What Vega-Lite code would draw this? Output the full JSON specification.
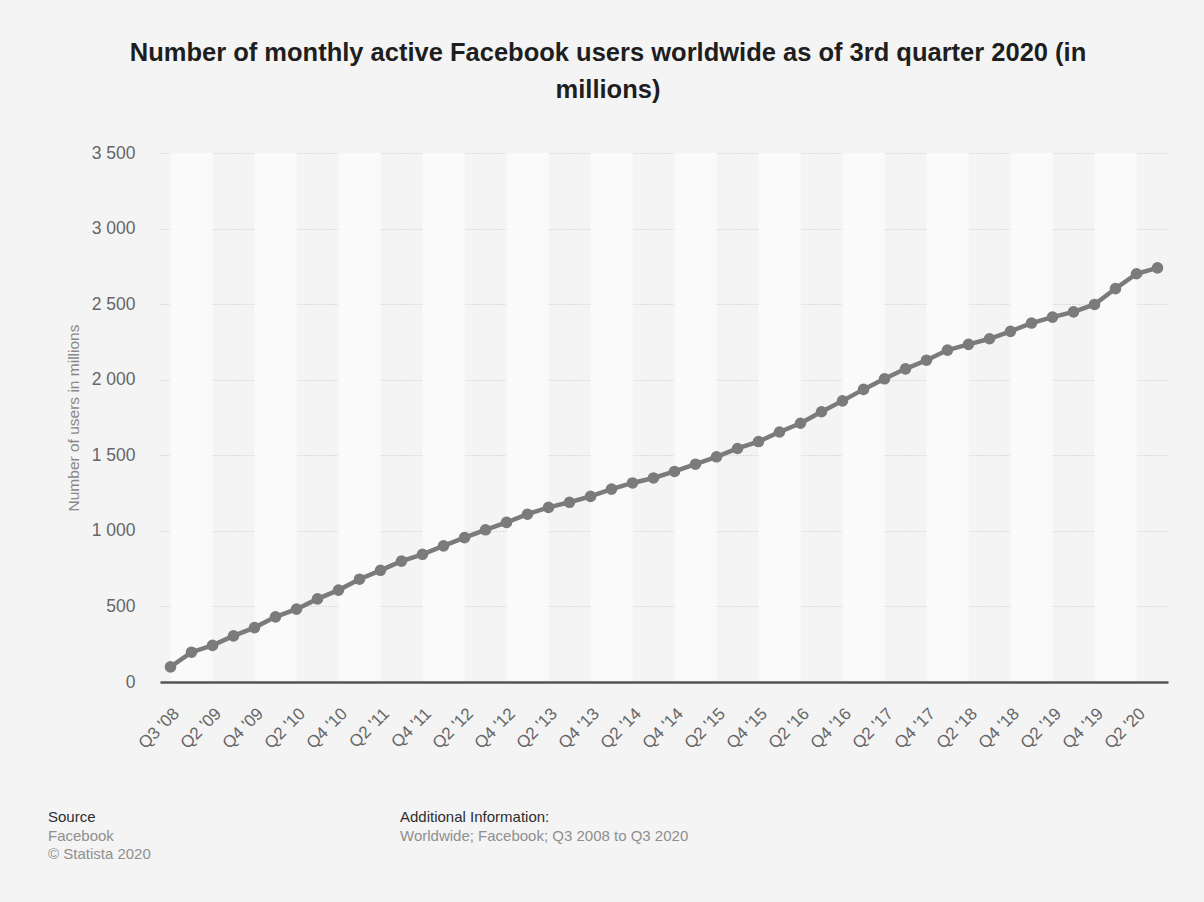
{
  "$schema": "https://vega.github.io/schema/vega-lite/v6.json",
  "background": "#f4f4f4",
  "padding": {"left": 48, "top": 40, "right": 36, "bottom": 41},
  "title": {
    "text": ["Number of monthly active Facebook users worldwide as of 3rd quarter 2020 (in", "millions)"],
    "anchor": "middle",
    "frame": "bounds",
    "font": "Liberation Sans",
    "fontSize": 25.5,
    "fontWeight": "bold",
    "color": "#1e1e1e",
    "lineHeight": 37,
    "offset": 41
  },
  "datasets": {
    "mau": [
      {"quarter": "Q3 '08", "users": 100},
      {"quarter": "Q1 '09", "users": 197},
      {"quarter": "Q2 '09", "users": 242},
      {"quarter": "Q3 '09", "users": 305},
      {"quarter": "Q4 '09", "users": 360},
      {"quarter": "Q1 '10", "users": 431},
      {"quarter": "Q2 '10", "users": 482},
      {"quarter": "Q3 '10", "users": 550},
      {"quarter": "Q4 '10", "users": 608},
      {"quarter": "Q1 '11", "users": 680},
      {"quarter": "Q2 '11", "users": 739},
      {"quarter": "Q3 '11", "users": 800},
      {"quarter": "Q4 '11", "users": 845},
      {"quarter": "Q1 '12", "users": 901},
      {"quarter": "Q2 '12", "users": 955},
      {"quarter": "Q3 '12", "users": 1007},
      {"quarter": "Q4 '12", "users": 1056},
      {"quarter": "Q1 '13", "users": 1110},
      {"quarter": "Q2 '13", "users": 1155},
      {"quarter": "Q3 '13", "users": 1189},
      {"quarter": "Q4 '13", "users": 1228},
      {"quarter": "Q1 '14", "users": 1276},
      {"quarter": "Q2 '14", "users": 1317},
      {"quarter": "Q3 '14", "users": 1350},
      {"quarter": "Q4 '14", "users": 1393},
      {"quarter": "Q1 '15", "users": 1441},
      {"quarter": "Q2 '15", "users": 1490},
      {"quarter": "Q3 '15", "users": 1545},
      {"quarter": "Q4 '15", "users": 1591},
      {"quarter": "Q1 '16", "users": 1654},
      {"quarter": "Q2 '16", "users": 1712},
      {"quarter": "Q3 '16", "users": 1788},
      {"quarter": "Q4 '16", "users": 1860},
      {"quarter": "Q1 '17", "users": 1936},
      {"quarter": "Q2 '17", "users": 2006},
      {"quarter": "Q3 '17", "users": 2072},
      {"quarter": "Q4 '17", "users": 2129},
      {"quarter": "Q1 '18", "users": 2196},
      {"quarter": "Q2 '18", "users": 2234},
      {"quarter": "Q3 '18", "users": 2271},
      {"quarter": "Q4 '18", "users": 2320},
      {"quarter": "Q1 '19", "users": 2375},
      {"quarter": "Q2 '19", "users": 2414},
      {"quarter": "Q3 '19", "users": 2449},
      {"quarter": "Q4 '19", "users": 2498},
      {"quarter": "Q1 '20", "users": 2603},
      {"quarter": "Q2 '20", "users": 2701},
      {"quarter": "Q3 '20", "users": 2740}
    ],
    "bands": [
      {"start": "Q3 '08", "end": "Q2 '09"},
      {"start": "Q4 '09", "end": "Q2 '10"},
      {"start": "Q4 '10", "end": "Q2 '11"},
      {"start": "Q4 '11", "end": "Q2 '12"},
      {"start": "Q4 '12", "end": "Q2 '13"},
      {"start": "Q4 '13", "end": "Q2 '14"},
      {"start": "Q4 '14", "end": "Q2 '15"},
      {"start": "Q4 '15", "end": "Q2 '16"},
      {"start": "Q4 '16", "end": "Q2 '17"},
      {"start": "Q4 '17", "end": "Q2 '18"},
      {"start": "Q4 '18", "end": "Q2 '19"},
      {"start": "Q4 '19", "end": "Q2 '20"}
    ],
    "footer": [
      {"col": 0, "row": 0, "kind": "head", "text": "Source"},
      {"col": 0, "row": 1, "kind": "body", "text": "Facebook"},
      {"col": 0, "row": 2, "kind": "body", "text": "© Statista 2020"},
      {"col": 1, "row": 0, "kind": "head", "text": "Additional Information:"},
      {"col": 1, "row": 1, "kind": "body", "text": "Worldwide; Facebook; Q3 2008 to Q3 2020"}
    ]
  },
  "spacing": 58,
  "vconcat": [
    {
      "width": 1008,
      "height": 529,
      "layer": [
        {
          "data": {"name": "bands"},
          "mark": {"type": "rect", "color": "#fafafa"},
          "encoding": {
            "x": {"field": "start", "type": "ordinal"},
            "x2": {"field": "end"},
            "y": {"datum": 3500, "type": "quantitative"},
            "y2": {"datum": 0}
          }
        },
        {
          "data": {"name": "mau"},
          "mark": {
            "type": "line",
            "color": "#7b7b7b",
            "strokeWidth": 4.5,
            "point": {"filled": true, "size": 135, "color": "#7b7b7b", "opacity": 1}
          },
          "encoding": {
            "x": {
              "field": "quarter",
              "type": "ordinal",
              "scale": {
                "type": "point",
                "padding": 0.5,
                "domain": ["Q3 '08","Q1 '09","Q2 '09","Q3 '09","Q4 '09","Q1 '10","Q2 '10","Q3 '10","Q4 '10","Q1 '11","Q2 '11","Q3 '11","Q4 '11","Q1 '12","Q2 '12","Q3 '12","Q4 '12","Q1 '13","Q2 '13","Q3 '13","Q4 '13","Q1 '14","Q2 '14","Q3 '14","Q4 '14","Q1 '15","Q2 '15","Q3 '15","Q4 '15","Q1 '16","Q2 '16","Q3 '16","Q4 '16","Q1 '17","Q2 '17","Q3 '17","Q4 '17","Q1 '18","Q2 '18","Q3 '18","Q4 '18","Q1 '19","Q2 '19","Q3 '19","Q4 '19","Q1 '20","Q2 '20","Q3 '20"]
              },
              "axis": {
                "title": null,
                "values": ["Q3 '08","Q2 '09","Q4 '09","Q2 '10","Q4 '10","Q2 '11","Q4 '11","Q2 '12","Q4 '12","Q2 '13","Q4 '13","Q2 '14","Q4 '14","Q2 '15","Q4 '15","Q2 '16","Q4 '16","Q2 '17","Q4 '17","Q2 '18","Q4 '18","Q2 '19","Q4 '19","Q2 '20"],
                "labelAngle": -45,
                "labelAlign": "right",
                "labelBaseline": "top",
                "labelFontSize": 17,
                "labelColor": "#666666",
                "labelFont": "Liberation Sans",
                "labelPadding": 23,
                "ticks": false,
                "grid": false,
                "domainColor": "#555555",
                "domainWidth": 2.5,
                "zindex": 1
              }
            },
            "y": {
              "field": "users",
              "type": "quantitative",
              "scale": {"domain": [0, 3500], "nice": false},
              "axis": {
                "title": "Number of users in millions",
                "titleFont": "Liberation Sans",
                "titleFontSize": 15.5,
                "titleFontWeight": "normal",
                "titleColor": "#888888",
                "titlePadding": 10,
                "values": [0, 500, 1000, 1500, 2000, 2500, 3000, 3500],
                "labelExpr": "replace(format(datum.value, ',d'), ',', ' ')",
                "labelFontSize": 17.5,
                "labelColor": "#666666",
                "labelFont": "Liberation Sans",
                "labelPadding": 25,
                "ticks": false,
                "domain": false,
                "grid": true,
                "gridColor": "#c4c4c4",
                "gridDash": [1, 2],
                "gridWidth": 1
              }
            }
          }
        }
      ]
    },
    {
      "width": 1008,
      "height": 37,
      "data": {"name": "footer"},
      "mark": {"type": "text", "align": "left", "baseline": "middle", "font": "Liberation Sans", "fontSize": 15, "clip": false},
      "encoding": {
        "x": {"field": "col", "type": "quantitative", "scale": {"domain": [0, 1], "range": [-112, 240]}, "axis": null},
        "y": {"field": "row", "type": "quantitative", "scale": {"domain": [0, 2], "range": [0, 37]}, "axis": null},
        "text": {"field": "text"},
        "color": {"field": "kind", "type": "nominal", "scale": {"domain": ["head", "body"], "range": ["#2e2e2e", "#8f8f8f"]}, "legend": null}
      }
    }
  ],
  "config": {
    "view": {"stroke": null},
    "axis": {"labelFont": "Liberation Sans", "titleFont": "Liberation Sans"}
  }
}
